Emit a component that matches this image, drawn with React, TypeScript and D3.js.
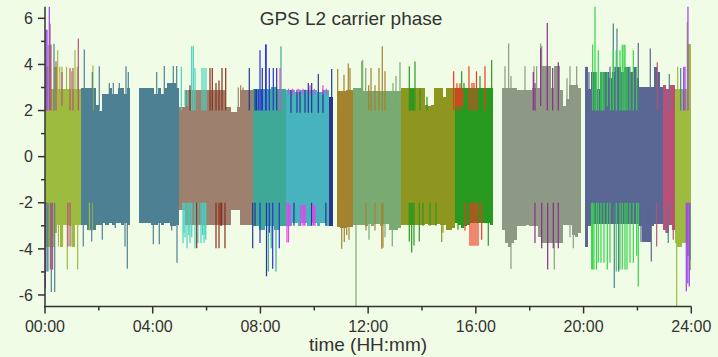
import React from 'react';
import * as d3 from 'd3';

const W = 718;
const H = 357;

// ---- axis ticks ----
const xMajor = [0, 4, 8, 12, 16, 20, 24];
const xLabels = ['00:00', '04:00', '08:00', '12:00', '16:00', '20:00', '24:00'];
const xMinor = [2, 6, 10, 14, 18, 22];
const yMajor = [-6, -4, -2, 0, 2, 4, 6];
const yMinor = [-5, -3, -1, 1, 3, 5];

// ---- satellite arcs (hours) ----
const arcStart = [0, 1.337, 3.49, 4.987, 7.713, 8.949, 10.546, 10.843, 11.426, 13.219, 15.225, 16.97, 20.05, 22.934, 23.391];
const arcEnd = [1.337, 3.156, 4.987, 7.713, 8.949, 10.546, 10.694, 11.426, 13.219, 15.225, 16.636, 19.904, 22.934, 23.391, 24.0];
const arcColors = ['#9dbb3f', '#4e8093', '#4e8093', '#9d806d', '#3ea996', '#47b3bf', '#28378e', '#a5822e', '#79aa72', '#8e961f', '#28991f', '#8e9985', '#5a6693', '#b9507a', '#9dbb3f'];

// upper envelope of each arc, evenly sampled over the arc
const top01 = [3.9, 3.9, 2.95, 3.9, 2.95, 2.95, 2.95, 2.95, 2.95, 2.95, 2.95, 2.95];
const top02 = [2.96, 2.96, 2.96, 2.96, 2.96, 2.24, 2.0, 2.71, 2.71, 2.96, 2.71, 2.71, 2.96, 2.96, 2.71, 2.96];
const top03 = [2.96, 2.96, 2.96, 2.96, 2.96, 2.71, 2.96, 2.71, 2.96, 3.2, 3.2, 3.2, 2.96];
const top04 = [2.16, 2.16, 2.89, 2.89, 2.89, 2.89, 2.89, 2.89, 2.89, 2.89, 2.89, 2.89, 2.89, 2.89, 2.89, 2.16, 2.16, 1.95, 1.95, 2.16, 2.89, 2.89, 2.89, 2.89];
const top05 = [2.92, 2.92, 2.92, 2.92, 2.92, 2.92, 3.0, 3.0, 2.92, 2.92, 2.92];
const top06 = [2.89, 2.89, 2.89, 2.8, 2.8, 2.89, 2.89, 2.89, 2.89, 2.89, 2.8, 2.8, 2.89, 2.89];
const top07 = [2.6, 2.6];
const top08 = [2.83, 2.83, 2.83, 2.89, 2.89];
const top09 = [2.96, 2.96, 2.96, 2.86, 2.86, 2.86, 2.86, 2.86, 2.86, 2.86, 2.86, 2.86, 2.86, 2.86, 2.86, 2.86];
const top10 = [2.96, 2.96, 2.96, 2.96, 2.96, 2.96, 2.96, 2.96, 2.24, 2.2, 2.24, 2.96, 2.96, 2.96, 2.6, 2.96, 2.96, 2.96];
const top11 = [2.96, 2.96, 2.96, 2.96, 2.96, 2.96, 2.96, 2.96, 2.96, 2.96, 2.96, 2.96, 2.96];
const top12 = [2.96, 2.96, 2.96, 2.96, 2.96, 2.9, 2.9, 2.9, 2.9, 2.9, 2.96, 2.96, 2.96, 3.92, 3.92, 3.92, 2.96, 3.92, 3.92, 2.9, 2.19, 2.5, 3.1, 3.1, 3.1, 2.96];
const top13 = [3.9, 2.92, 3.67, 3.67, 2.92, 3.67, 3.67, 3.67, 3.4, 3.67, 3.9, 3.9, 3.67, 3.9, 3.9, 3.67, 3.9, 3.4, 3.0, 3.0, 3.0, 3.0, 3.0, 3.9, 3.67, 3.0];
const top14 = [3.1, 2.92, 3.1, 3.1];
const top15 = [2.92, 2.92, 2.92, 2.92, 2.92, 4.87, 4.87];

// lower envelope of each arc
const bot01 = [-3.9, -3.9, -3.9, -3.3, -2.96, -3.9, -2.96, -2.96, -3.0, -3.9, -2.96, -2.96];
const bot02 = [-2.96, -2.96, -3.17, -3.17, -3.17, -2.96, -2.96, -2.88, -2.96, -2.88, -2.96, -2.88, -2.88, -2.96, -2.88, -2.96];
const bot03 = [-2.88, -2.88, -2.88, -2.88, -2.96, -2.96, -2.88, -2.96, -2.88, -2.88, -3.0, -3.0, -2.96];
const bot04 = [-2.3, -2.3, -2.96, -2.96, -2.96, -2.96, -2.96, -2.96, -2.96, -2.96, -2.96, -2.96, -2.96, -2.96, -2.96, -2.96, -2.96, -2.3, -2.3, -2.3, -2.96, -2.96, -2.96, -2.96];
const bot05 = [-3.0, -3.0, -3.17, -3.17, -3.0, -3.0, -3.0, -3.17, -3.17, -3.0, -3.0];
const bot06 = [-3.0, -3.0, -2.88, -2.88, -3.0, -2.88, -2.88, -3.0, -2.88, -2.88, -3.0, -2.88, -2.88, -3.0];
const bot07 = [-3.0, -3.0];
const bot08 = [-3.03, -3.09, -3.09, -3.03, -3.03];
const bot09 = [-2.96, -2.96, -2.96, -2.96, -3.0, -2.9, -3.0, -2.9, -2.9, -3.0, -2.9, -2.9, -3.17, -3.17, -3.17, -3.1];
const bot10 = [-2.96, -2.96, -2.96, -2.96, -2.96, -2.96, -2.96, -2.96, -2.9, -2.96, -2.96, -2.96, -2.9, -2.96, -2.96, -3.17, -3.17, -3.1];
const bot11 = [-2.88, -2.96, -3.1, -3.0, -2.96, -2.88, -2.88, -2.88, -2.88, -2.88, -2.88, -2.88, -2.96];
const bot12 = [-3.2, -3.75, -3.9, -3.75, -3.6, -3.0, -3.0, -3.0, -2.96, -3.0, -3.0, -3.0, -3.5, -3.75, -3.75, -3.75, -3.75, -3.75, -3.75, -3.75, -2.96, -2.96, -2.96, -3.4, -3.5, -3.3];
const bot13 = [-3.9, -3.0, -2.94, -2.94, -2.94, -2.94, -2.94, -2.94, -2.94, -2.94, -2.94, -2.94, -2.94, -2.94, -2.94, -2.94, -2.94, -2.94, -3.0, -3.7, -3.7, -3.7, -3.0, -2.94, -2.94, -2.94];
const bot14 = [-3.17, -3.3, -2.96, -3.17];
const bot15 = [-3.75, -3.9, -3.9, -3.75, -3.75, -4.3, -4.9];

const arcTops = [top01, top02, top03, top04, top05, top06, top07, top08, top09, top10, top11, top12, top13, top14, top15];
const arcBots = [bot01, bot02, bot03, bot04, bot05, bot06, bot07, bot08, bot09, bot10, bot11, bot12, bot13, bot14, bot15];

// ---- single-epoch outliers: [hour, from, to] ----
const ygSpikes = [[0.12, 2, 4.85], [0.2, 2, 4.85], [0.472, 2, 4.62], [0.55, 2, 3.9], [0.63, 2, 3.9], [0.8, 2, 3.9], [0.99, 2, 3.7], [1.114, 2, 4.62], [1.2, 2, 3.9], [1.78, 2, 3.95],
  [0.5, -2, -3.9], [0.65, -2, -3.9], [0.828, -2, -4.9], [1.0, -2, -3.9], [1.214, -2, -4.9], [1.65, -2, -3.2], [1.76, -2, -3.2],
  [23.494, 2, 3.9], [23.851, 2, 5.85], [23.457, -2, -6.5]];
const pinkSpikes = [[0.186, 2, 5.77], [0.223, 2, 4.87], [0.408, 2, 4.14], [0.631, 2.2, 3.67], [0.928, 2, 3.85], [1.04, 2, 3.85], [1.237, 2, 5.12], [22.736, 2, 4.1],
  [0.2, -2, -4.9], [0.28, -2, -4.9], [0.85, -2, -3.9], [0.93, -2, -3.9], [22.715, -2, -3.9], [23.059, -2, -3.3], [23.331, -2, -3.6]];
const violetSpikes = [[0.037, 2, 5.5], [0.074, 2, 5.5], [0.16, 2, 6.5], [23.717, 2, 3.9], [23.765, 2, 3.9], [23.876, 2, 6.5],
  [0.011, -2, -5.7], [23.814, -2, -5.84], [23.925, -2, -5.63], [23.87, -2, -5.5]];
const steelSpikes = [[0.334, 2, 4.9], [1.459, 2, 4.65], [1.756, 2, 3.67], [2.016, 2, 3.92], [2.388, 2, 3.2], [2.536, 2, 3.2], [2.759, 2, 3.2], [3.008, 2, 3.92], [3.093, 2, 3.67],
  [4.148, 2, 3.67], [4.43, 2, 3.93], [4.63, 2, 3.2], [4.764, 2, 3.93], [4.89, 2, 3.93], [21.103, 2, 5.78], [21.24, 2, 5.56], [23.182, 2, 3.58], [23.606, 2, 3.84],
  [0.074, -2, -4.98], [0.11, -2, -4.98], [0.234, -2, -5.87], [0.36, -2, -5.87], [1.422, -2, -3.9], [1.734, -2, -3.68], [2.128, -2, -3.6], [2.61, -2, -3.1], [2.971, -2, -3.9],
  [3.056, -2, -4.86], [4.022, -2, -3.8], [4.244, -2, -3.8], [4.705, -2, -3.2], [4.902, -2, -4.6], [21.14, -2, -5.7], [23.145, -2, -3.75], [23.95, -2, -4.5]];
const turquoiseSpikes = [[5.061, 2, 3.9], [5.447, 2, 4.79], [5.507, 2, 4.79], [5.57, 2, 3.84], [5.83, 2, 3.84], [5.904, 2, 3.84], [5.978, 2, 3.84], [5.3, 2.2, 2.89], [5.2, 2.2, 2.89],
  [5.124, -2, -3.75], [5.273, -2, -3.97], [5.384, -2, -3.75], [5.57, -2, -3.97], [5.681, -2, -3.75], [5.793, -2, -3.75], [5.904, -2, -3.75], [5.97, -2, -3.6],
  [5.16, -2, -3.3], [5.2, -2, -3.5], [5.34, -2, -3.4], [5.45, -2, -3.5], [5.85, -2, -3.4], [5.94, -2, -3.4]];
const darkRedSpikes = [[5.384, 2, 3.1], [6.127, 2, 3.84], [6.212, 2, 3.84], [6.35, 2, 3.2], [6.461, 2, 3.3], [6.573, 2, 3.84], [6.71, 2, 3.84],
  [5.633, -2, -3.97], [6.35, -2, -3.97], [6.461, -2, -3.97], [6.684, -2, -3.97], [6.53, -2, -3.0], [6.56, -2, -3.0]];
const brownSpikes = [[7.178, 2, 3.0], [7.267, 2, 3.1], [7.352, 2, 3.0]];
const navySpikes = [[7.586, 2, 3.84], [7.8, 2, 2.92], [7.85, 2, 2.92], [8.069, 2, 3.84], [8.604, 2, 3.84], [9.135, 1.9, 2.9], [9.358, 1.9, 2.9], [9.469, 1.9, 2.9],
  [9.655, 1.9, 2.9], [9.777, 1.9, 3.2], [9.903, 1.9, 3.2], [10.149, 1.9, 3.58], [10.323, 1.9, 2.9], [10.646, 2, 3.8],
  [7.713, -2, -3.97], [7.8, -2, -3.0], [8.225, -2, -5.19], [9.246, -2, -3.0], [9.9, -2, -3.0], [10.43, -2, -3.0]];
const blueSpikes = [[7.984, 2, 4.62], [8.195, 2, 4.87], [8.21, 2, 4.87], [8.329, 2, 3.84], [8.478, 2, 3.84], [7.92, 2, 2.92], [8.05, 2, 2.92],
  [7.984, -2, -3.75], [8.455, -2, -4.86], [8.7, -2, -3.97], [8.33, -2, -3.3]];
const tealSpikes = [[8.763, 2, 4.79], [8.292, -2, -4.98], [8.578, -2, -4.98], [8.4, -2, -3.97]];
const magentaSpikes = [[8.726, 2, 3.84], [9.042, 2.7, 2.95], [9.2, 2.7, 2.95], [9.4, 2.7, 2.95], [9.58, 2.7, 2.95], [9.84, 2.7, 3.1], [10.0, 2.7, 2.95], [10.323, 2.7, 3.1], [10.45, 2.7, 2.95],
  [8.986, -2, -3.72], [9.042, -2, -3.72], [9.58, -2.1, -3.0], [9.655, -2.1, -3.0], [9.952, -2.1, -3.0], [10.026, -2.1, -3.0], [9.1, -2.1, -3.0], [9.5, -2.1, -3.0], [9.62, -2.1, -3.0], [9.98, -2.1, -3.0]];
const ochreSpikes = [[10.869, 2, 3.8], [11.103, 2, 3.55], [11.263, 2, 4.04], [11.326, 2, 3.84], [12.02, 2, 3.1], [12.106, 2, 3.84], [12.254, 2, 3.1], [12.403, 2, 3.84], [12.525, 2, 4.79], [12.625, 2, 3.7],
  [11.018, -2, -4.0], [11.114, -2, -3.7], [11.203, -2, -3.4], [11.289, -2, -3.6], [11.92, -2, -3.2], [12.254, -2, -3.2], [12.503, -2, -4.0], [12.551, -2, -3.95]];
const sageSpikes = [[11.76, 2, 4.14], [11.797, 2, 4.19], [11.909, 2, 3.84], [12.922, 2, 3.2], [13.034, 2, 3.5], [13.182, 2, 4.1],
  [11.548, -2, -6.5], [12.031, -2, -3.6], [12.625, -2, -3.5], [12.896, -2, -3.9]];
const greenSpikes = [[13.528, 2, 3.92], [13.739, 2, 4.13], [13.56, 2, 2.96], [13.6, 2, 2.96], [13.65, 2, 2.96], [13.68, 2, 2.96], [13.925, 2, 2.96], [14.185, 2, 2.6], [15.473, 2, 3.7], [15.559, 2, 3.2], [16.153, 2, 3.5], [16.587, 2, 4.19],
  [13.528, -2, -3.68], [13.617, -2, -4.16], [13.702, -2, -3.85], [13.899, -2, -3.68], [14.036, -2, -3.0], [14.296, -2, -3.0], [14.519, -2, -3.0], [15.336, -2, -3.17], [16.461, -2, -3.87],
  [13.56, -2, -2.96], [13.66, -2, -2.96]];
const oliveSpikes = [[14.731, -2, -3.7], [14.779, -2, -3.3]];
const redSpikes = [[15.176, 2, 3.7], [15.299, 2, 3.18], [15.41, 2, 3.18], [15.744, 2, 3.92], [15.856, 2, 3.2], [15.93, 2, 3.2], [16.023, 2, 3.7], [16.339, 2, 3.92],
  [15.262, 2.2, 2.96], [15.336, 2.2, 2.96], [15.37, 2.2, 2.96], [15.45, 2.2, 2.96], [15.52, 2.2, 2.96],
  [15.596, -2, -3.2], [15.782, -2, -3.87], [15.856, -2, -3.87], [15.93, -2, -3.87], [16.004, -2, -3.87], [16.079, -2, -3.87], [16.216, -2, -3.6]];
const graySpikes = [[17.081, 2, 3.92], [17.218, 2, 4.91], [17.304, 2, 3.5], [17.824, 2, 3.92], [18.158, 2, 3.92], [18.258, 2, 3.92], [18.407, 2, 4.91], [18.444, 2, 4.8], [18.53, 2, 3.92],
  [19.384, 2, 3.4], [19.495, 2, 3.92], [19.744, 2, 3.92],
  [17.304, -2, -4.87], [18.912, -2, -4.9], [19.495, -2, -3.5], [19.618, -2, -3.97]];
const purpleSpikes = [[18.132, 2, 3.67], [18.195, 2, 3.2], [18.407, 2.2, 4.7], [18.652, 2, 5.8], [18.853, 2, 3.84], [19.06, 2, 4.1],
  [18.195, -2, -3.75], [18.444, -2, -3.97], [18.667, -2, -4.9], [18.875, -2, -3.97], [19.06, -2, -3.97]];
const slateSpikes = [[20.115, 2, 3.9], [20.2, 2, 3.67], [20.98, 2, 3.9], [21.166, 2, 3.9], [22.031, 2, 4.93], [22.477, 2, 4.69],
  [20.115, -2, -3.9], [21.303, -2, -4.98], [22.132, -2, -3.7], [22.393, -2, -3.7], [22.514, -2, -4.55]];
const limeSpikes = [[20.338, 2, 4.87], [20.423, 2, 6.5], [20.48, 2, 3.67], [20.546, 2, 4.62], [20.646, 2, 3.67], [20.7, 2, 3.67], [20.758, 2, 3.67], [20.88, 2.19, 3.67], [21.0, 2, 3.67],
  [21.103, 2, 4.62], [21.214, 2, 4.62], [21.352, 2, 4.62], [21.437, 2, 4.85], [21.5, 2, 4.85], [21.537, 2, 4.85], [21.612, 2, 3.9], [21.723, 2, 3.9], [21.846, 2, 4.62], [21.972, 2, 3.9],
  [20.301, -2, -4.9], [20.338, -2, -4.9], [20.386, -2, -4.9], [20.479, -2, -4.9], [20.546, -2, -4.6], [20.646, -2, -4.6], [20.758, -2, -4.6], [20.88, -2, -4.9], [20.98, -2, -4.6],
  [21.214, -2, -4.98], [21.352, -2, -4.9], [21.437, -2, -4.9], [21.537, -2, -4.9], [21.612, -2, -4.9], [21.723, -2, -4.6], [21.846, -2, -4.6], [22.031, -2, -5.63], [21.972, -2, -4.3]];

const spikeGroups: [number[][], string][] = [
  [ygSpikes, '#9dbb3f'], [steelSpikes, '#4e8093'], [brownSpikes, '#9d806d'], [turquoiseSpikes, '#48d1c1'],
  [darkRedSpikes, '#8b2e1a'], [tealSpikes, '#3ea996'], [navySpikes, '#28378e'], [blueSpikes, '#2a30e6'],
  [magentaSpikes, '#f03cf0'], [ochreSpikes, '#a5822e'], [sageSpikes, '#79aa72'], [oliveSpikes, '#8e961f'],
  [greenSpikes, '#28991f'], [redSpikes, '#f23820'], [graySpikes, '#8e9985'], [purpleSpikes, '#8c2c8c'],
  [slateSpikes, '#5a6693'], [limeSpikes, '#33d44a'], [pinkSpikes, '#b9507a'], [violetSpikes, '#9b40f0'],
];

const FONT = '"Liberation Sans", Arial, Helvetica, sans-serif';
const INK = '#333';

export default function App() {
  const x = d3.scaleLinear().domain([0, 24]).range([45, 691.3]);
  const y = d3.scaleLinear().domain([-6.5, 6.5]).range([306.5, 6.8]);

  const area = d3
    .area<number[]>()
    .x((d) => x(d[0]))
    .y0((d) => y(d[1]))
    .y1((d) => y(d[2]))
    .curve(d3.curveStepAfter);

  const arcPaths = arcStart.map((t0, i) => {
    const t1 = arcEnd[i];
    const tops = arcTops[i];
    const bots = arcBots[i];
    const n = tops.length;
    const dt = (t1 - t0) / n;
    const pts = tops.map((v, k) => [t0 + k * dt, bots[k], v]);
    pts.push([t1, bots[n - 1], tops[n - 1]]);
    return <path key={'arc' + i} d={area(pts) || ''} fill={arcColors[i]} shapeRendering="crispEdges" />;
  });

  return (
    <svg width={W} height={H} style={{ position: 'absolute', left: 0, top: 0, display: 'block' }}>
      <rect x={0} y={0} width={W} height={H} fill="#f1fce6" />
      <g>{arcPaths}</g>
      <g>
        {spikeGroups.map(([list, color], gi) =>
          list.map((s, k) => (
            <line key={gi + '-' + k} x1={x(s[0])} x2={x(s[0])} y1={y(s[1])} y2={y(s[2])} stroke={color} strokeWidth={1.2} />
          ))
        )}
      </g>
      {/* axes */}
      <g stroke={INK} strokeWidth={1.5} fill="none">
        <line x1={x(0)} x2={x(0)} y1={y(6.5)} y2={y(-6.5) + 0.75} />
        <line x1={x(0) - 0.75} x2={x(24)} y1={y(-6.5)} y2={y(-6.5)} />
        {yMajor.map((v) => (
          <line key={'ym' + v} x1={x(0) - 7} x2={x(0)} y1={y(v)} y2={y(v)} />
        ))}
        {yMinor.map((v) => (
          <line key={'yn' + v} x1={x(0) - 4} x2={x(0)} y1={y(v)} y2={y(v)} />
        ))}
        {xMajor.map((h) => (
          <line key={'xm' + h} x1={x(h)} x2={x(h)} y1={y(-6.5)} y2={y(-6.5) + 7} />
        ))}
        {xMinor.map((h) => (
          <line key={'xn' + h} x1={x(h)} x2={x(h)} y1={y(-6.5)} y2={y(-6.5) + 4} />
        ))}
      </g>
      <g fill={INK} fontFamily={FONT} fontSize={16}>
        {yMajor.map((v) => (
          <text key={'yl' + v} x={x(0) - 12} y={y(v) + 5.7} textAnchor="end">
            {v}
          </text>
        ))}
        {xMajor.map((h, i) => (
          <text key={'xl' + h} x={x(h)} y={332} textAnchor="middle">
            {xLabels[i]}
          </text>
        ))}
      </g>
      <text x={351} y={25} textAnchor="middle" fontFamily={FONT} fontSize={19} fill={INK}>
        GPS L2 carrier phase
      </text>
      <text x={368} y={351} textAnchor="middle" fontFamily={FONT} fontSize={19} fill={INK}>
        time (HH:mm)
      </text>
    </svg>
  );
}
